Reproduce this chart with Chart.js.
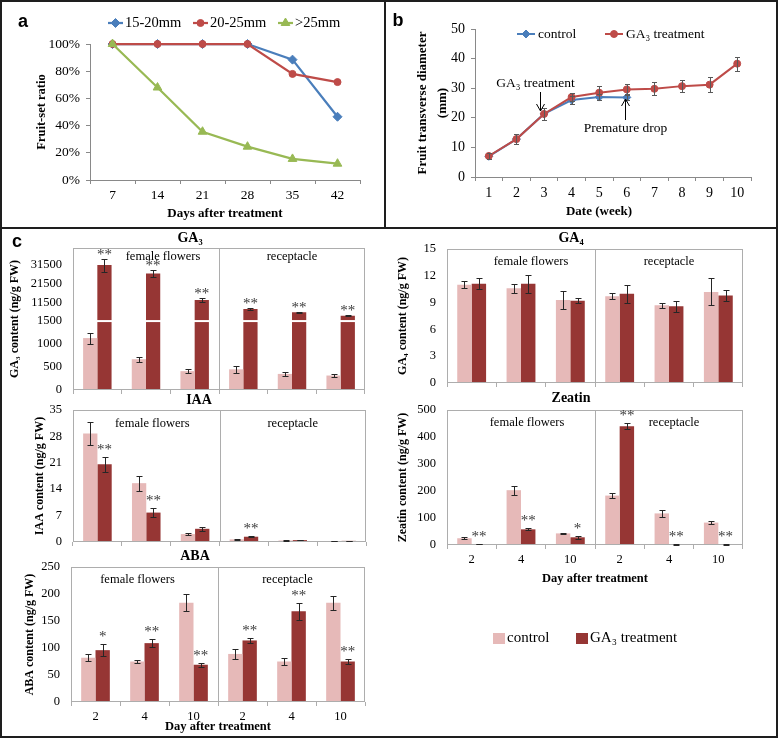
<!doctype html>
<html>

<head>
	<script src="https://cdn.jsdelivr.net/npm/chart.js@4.4.1/dist/chart.umd.min.js"></script>
	<style>
	body { margin: 0; background: #fff; }
	#fig { position: relative; width: 778px; height: 738px; overflow: hidden; }
	#fig canvas { position: absolute; left: 0; top: 0; }
	.rule { position: absolute; background: #1e1e1e; }
	.key { position: absolute; font: 15px 'Liberation Serif', serif; line-height: 16px; white-space: nowrap; }
	.swatch { position: absolute; width: 12px; height: 11px; }
	</style>
</head>

<body>
	<div id="fig">
		<canvas id="fruitSet" width="778" height="738"></canvas>
		<canvas id="diameter" width="778" height="738"></canvas>
		<canvas id="ga3" width="778" height="738"></canvas>
		<canvas id="ga4" width="778" height="738"></canvas>
		<canvas id="iaa" width="778" height="738"></canvas>
		<canvas id="zeatin" width="778" height="738"></canvas>
		<canvas id="aba" width="778" height="738"></canvas>
		<div id="keyC"></div>
		<div class="rule" style="left:0;top:0;width:778px;height:2px"></div>
		<div class="rule" style="left:0;top:736px;width:778px;height:2px"></div>
		<div class="rule" style="left:0;top:0;width:2px;height:738px"></div>
		<div class="rule" style="left:776px;top:0;width:2px;height:738px"></div>
		<div class="rule" style="left:0;top:227px;width:778px;height:2px"></div>
		<div class="rule" style="left:384px;top:0;width:2px;height:228px"></div>
	</div>
	<script>
		var W = 778, H = 738;
		var serif = "'Liberation Serif', 'Times New Roman', serif";
		var sans = "'Liberation Sans', Arial, sans-serif";

		// a: fruit-set ratio (%)
		var daysA = ['7', '14', '21', '28', '35', '42'];
		var sizeClasses = ['15-20mm', '20-25mm', '>25mm'];
		var set1520 = [100, 100, 100, 100, 88.5, 46.5];
		var set2025 = [100, 100, 100, 100, 78, 72];
		var setOver25 = [100, 68, 35.5, 24.5, 15.5, 12];

		// b: fruit transverse diameter (mm)
		var weeks = ['1', '2', '3', '4', '5', '6', '7', '8', '9', '10'];
		var seriesNames = ['control', 'GA\u2083 treatment'];
		var diaControl = [7.0, 12.8, 21.3, 26.0, 27.0, 26.9, null, null, null, null];
		var diaControlErr = [1.0, 1.7, 2.0, 1.3, 1.0, 1.0, null, null, null, null];
		var diaTreated = [7.1, 12.8, 21.3, 27.0, 28.5, 29.6, 29.8, 30.7, 31.2, 38.3];
		var diaTreatedErr = [1.0, 1.7, 2.0, 1.3, 2.4, 1.9, 2.2, 2.1, 2.5, 2.4];

		// c: hormone contents (ng/g FW)
		var days = ['2', '4', '10', '2', '4', '10'];
		var tissues = ['female flowers', 'receptacle'];

		var ga3Control = [1130, 670, 410, 450, 350, 315];
		var ga3ControlErr = [120, 50, 40, 70, 40, 30];
		var ga3Treated = [31500, 27000, 12800, 8000, 6200, 4400];
		var ga3TreatedErr = [3500, 2000, 1000, 400, 200, 200];
		var ga3Stars = ['**', '**', '**', '**', '**', '**'];
		var ga3Ticks = [0, 500, 1000, 1500, 11500, 21500, 31500];

		var ga4Control = [11.0, 10.6, 9.3, 9.7, 8.7, 10.2];
		var ga4ControlErr = [0.4, 0.5, 1.0, 0.35, 0.3, 1.5];
		var ga4Treated = [11.1, 11.1, 9.2, 10.0, 8.6, 9.8];
		var ga4TreatedErr = [0.6, 1.0, 0.3, 1.0, 0.6, 0.6];
		var ga4Stars = ['', '', '', '', '', ''];

		var iaaControl = [28.8, 15.6, 2.1, 0.7, 0.4, 0.2];
		var iaaControlErr = [3.0, 2.0, 0.3, 0.15, 0.1, 0.05];
		var iaaTreated = [20.6, 7.8, 3.5, 1.4, 0.5, 0.3];
		var iaaTreatedErr = [2.0, 1.1, 0.5, 0.2, 0.1, 0.05];
		var iaaStars = ['**', '**', '', '**', '', ''];

		var zeaControl = [25, 203, 43, 183, 117, 83];
		var zeaControlErr = [3, 17, 3, 8, 14, 7];
		var zeaTreated = [3, 58, 28.5, 440, 2, 2];
		var zeaTreatedErr = [0.5, 4, 6, 12, 0.5, 0.5];
		var zeaStars = ['**', '**', '*', '**', '**', '**'];

		var abaControl = [82, 75, 184, 89, 75, 184];
		var abaControlErr = [6, 2, 16, 9, 6, 13];
		var abaTreated = [96, 109, 69, 114, 168, 75];
		var abaTreatedErr = [11, 7, 4, 5, 16, 5];
		var abaStars = ['*', '**', '**', '**', '**', '**'];

		var blue = '#4A7EBB', red = '#BE4B48', green = '#98B954';
		var pink = '#E6B9B8', maroon = '#963634';
		var axisGrey = '#898989', frameGrey = '#ADADAD';

		Chart.defaults.font.family = serif;
		Chart.defaults.color = '#000';

		// GA3 axis is broken above 1500
		function ga3Break(v) {
			return v <= 1500 ? v : 1500 + (v - 1500) * 0.0406;
		}

		function box(L, T, R, B, yw, xh) {
			return { left: L - yw, top: T, right: W - R, bottom: H - B - xh };
		}

		var errorBars = {
			id: 'errorBars',
			afterDatasetsDraw: function(chart, args, o) {
				var ctx = chart.ctx, y = chart.scales.y;
				var map = o.map || function(v) { return v; };
				chart.data.datasets.forEach(function(ds, di) {
					if (!ds.errors) return;
					chart.getDatasetMeta(di).data.forEach(function(el, i) {
						var v = ds.values ? ds.values[i] : ds.data[i];
						var e = ds.errors[i];
						if (v == null || e == null) return;
						var x = Math.round(el.x) + 0.5;
						var top = Math.round(y.getPixelForValue(map(v + e))) + 0.5;
						var bot = Math.round(y.getPixelForValue(map(Math.max(v - e, 0)))) + 0.5;
						ctx.save();
						ctx.strokeStyle = o.color;
						ctx.lineWidth = 1;
						ctx.beginPath();
						ctx.moveTo(x, top); ctx.lineTo(x, bot);
						ctx.moveTo(x - o.cap, top); ctx.lineTo(x + o.cap, top);
						ctx.moveTo(x - o.cap, bot); ctx.lineTo(x + o.cap, bot);
						ctx.stroke();
						ctx.restore();
					});
				});
			}
		};

		var stars = {
			id: 'stars',
			afterDatasetsDraw: function(chart, args, o) {
				var ctx = chart.ctx, y = chart.scales.y;
				var map = o.map || function(v) { return v; };
				chart.data.datasets.forEach(function(ds, di) {
					if (!ds.stars) return;
					chart.getDatasetMeta(di).data.forEach(function(el, i) {
						if (!ds.stars[i]) return;
						var v = ds.values ? ds.values[i] : ds.data[i];
						var top = y.getPixelForValue(map(v + (ds.errors ? ds.errors[i] : 0)));
						ctx.save();
						ctx.fillStyle = '#3a3a3a';
						ctx.font = '15px ' + serif;
						ctx.textAlign = 'center';
						ctx.textBaseline = 'alphabetic';
						ctx.fillText(ds.stars[i], el.x, top - o.gap);
						ctx.restore();
					});
				});
			}
		};

		var frame = {
			id: 'frame',
			afterDatasetsDraw: function(chart, args, o) {
				var a = chart.chartArea, x = chart.scales.x, ctx = chart.ctx;
				var l = Math.round(a.left) + 0.5, t = Math.round(a.top) + 0.5;
				var r = Math.round(a.right) - 0.5, b = Math.round(a.bottom) - 0.5;
				var mid = Math.round((x.getPixelForValue(2) + x.getPixelForValue(3)) / 2) + 0.5;
				ctx.save();
				ctx.strokeStyle = o.color;
				ctx.lineWidth = 1;
				ctx.strokeRect(l, t, r - l, b - t);
				ctx.beginPath();
				ctx.moveTo(mid, t); ctx.lineTo(mid, b);
				ctx.stroke();
				ctx.fillStyle = '#000';
				ctx.font = '12.5px ' + serif;
				ctx.textAlign = 'center';
				ctx.textBaseline = 'middle';
				tissues.forEach(function(name, k) {
					var cx = (x.getPixelForValue(k * 3) + x.getPixelForValue(k * 3 + 2)) / 2;
					ctx.fillText(name, cx + o.dx[k], a.top + o.dy);
				});
				ctx.restore();
			}
		};

		var breakMark = {
			id: 'breakMark',
			afterDatasetsDraw: function(chart, args, o) {
				if (o.at == null) return;
				var ctx = chart.ctx, y = chart.scales.y;
				var py = y.getPixelForValue(o.at);
				chart.data.datasets.forEach(function(ds, di) {
					chart.getDatasetMeta(di).data.forEach(function(el, i) {
						if (ds.data[i] <= o.at) return;
						ctx.save();
						ctx.strokeStyle = '#fff';
						ctx.lineWidth = 2;
						ctx.beginPath();
						ctx.moveTo(el.x - el.width / 2 - 1, py);
						ctx.lineTo(el.x + el.width / 2 + 1, py);
						ctx.stroke();
						ctx.restore();
					});
				});
			}
		};

		var lineLegend = {
			id: 'lineLegend',
			afterDraw: function(chart, args, o) {
				var ctx = chart.ctx;
				chart.data.datasets.forEach(function(ds, i) {
					var x = o.x[i], y = o.y;
					ctx.save();
					ctx.strokeStyle = ds.borderColor;
					ctx.lineWidth = ds.borderWidth;
					ctx.beginPath();
					ctx.moveTo(x, y); ctx.lineTo(x + o.len, y);
					ctx.stroke();
					ctx.fillStyle = ds.pointBackgroundColor;
					ctx.strokeStyle = ds.pointBorderColor;
					ctx.lineWidth = 1;
					Chart.helpers.drawPoint(ctx, { pointStyle: ds.pointStyle, radius: ds.pointRadius, rotation: 0, borderWidth: 1 }, x + o.len / 2, y);
					ctx.fillStyle = '#000';
					ctx.font = o.font;
					ctx.textAlign = 'left';
					ctx.textBaseline = 'middle';
					ctx.fillText(ds.label, x + o.len + o.gap, y);
					ctx.restore();
				});
			}
		};

		var notes = {
			id: 'notes',
			afterDraw: function(chart, args, o) {
				var ctx = chart.ctx, x = chart.scales.x;
				o.items.forEach(function(n) {
					var px = Math.round(x.getPixelForValue(n.index) + n.dx) + 0.5;
					var dir = n.to > n.from ? 1 : -1;
					ctx.save();
					ctx.strokeStyle = '#000';
					ctx.lineWidth = 1;
					ctx.beginPath();
					ctx.moveTo(px, n.from); ctx.lineTo(px, n.to);
					ctx.moveTo(px - 4, n.to - dir * 7); ctx.lineTo(px, n.to); ctx.lineTo(px + 4, n.to - dir * 7);
					ctx.stroke();
					ctx.fillStyle = '#000';
					ctx.font = '13.5px ' + serif;
					ctx.textAlign = 'center';
					ctx.textBaseline = 'middle';
					ctx.fillText(n.text, px + n.textDx, n.textY);
					ctx.restore();
				});
			}
		};

		var decor = {
			id: 'decor',
			afterDraw: function(chart, args, o) {
				var ctx = chart.ctx;
				o.texts.forEach(function(t) {
					ctx.save();
					ctx.font = t.font;
					ctx.fillStyle = '#000';
					ctx.textAlign = 'center';
					ctx.textBaseline = 'middle';
					ctx.fillText(t.text, t.x, t.y);
					ctx.restore();
				});
			}
		};

		function lineSet(label, data, color, style, r, order) {
			return {
				label: label, data: data,
				borderColor: color, backgroundColor: color,
				pointBackgroundColor: color, pointBorderColor: color,
				pointStyle: style, pointRadius: r, pointBorderWidth: 1,
				borderWidth: 2.25, tension: 0, clip: false, order: order
			};
		}

		// panel a
		new Chart(document.getElementById('fruitSet'), {
			type: 'line',
			data: {
				labels: daysA,
				datasets: [
					lineSet(sizeClasses[0], set1520, blue, 'rectRot', 4.5, 2),
					lineSet(sizeClasses[1], set2025, red, 'circle', 3.5, 1),
					lineSet(sizeClasses[2], setOver25, green, 'triangle', 5, 0)
				]
			},
			options: {
				responsive: false, animation: false, events: [],
				layout: { padding: box(90, 44, 360, 180, 90, 48) },
				scales: {
					x: {
						offset: true,
						ticks: { font: { size: 13.5 }, padding: 3, maxRotation: 0 },
						grid: { drawOnChartArea: false, tickLength: 4, offset: true, color: axisGrey },
						border: { color: axisGrey },
						title: { display: true, text: 'Days after treatment', font: { size: 13, weight: 'bold' }, padding: { top: 0, bottom: 6.2 } },
						afterFit: function(s) { s.height = 48; }
					},
					y: {
						min: 0, max: 100,
						ticks: { stepSize: 20, font: { size: 13.5 }, padding: 6, callback: function(v) { return v + '%'; } },
						grid: { drawOnChartArea: false, tickLength: 4, color: axisGrey },
						border: { color: axisGrey },
						title: { display: true, text: 'Fruit-set ratio', font: { size: 12.5, weight: 'bold' }, padding: { top: 34.5, bottom: 0 } },
						afterFit: function(s) { s.width = 90; }
					}
				},
				plugins: {
					legend: { display: false }, tooltip: { enabled: false },
					lineLegend: { x: [108, 193, 278], y: 23, len: 15, gap: 2, font: '14.5px ' + serif },
					decor: { texts: [{ text: 'a', x: 23, y: 22, font: 'bold 18px ' + sans }] }
				}
			},
			plugins: [lineLegend, decor]
		});

		// panel b
		var ctrlLine = lineSet(seriesNames[0], diaControl, blue, 'rectRot', 4, 1);
		ctrlLine.errors = diaControlErr;
		ctrlLine.borderWidth = 2;
		var ga3Line = lineSet(seriesNames[1], diaTreated, red, 'circle', 3.5, 0);
		ga3Line.errors = diaTreatedErr;
		ga3Line.borderWidth = 2;

		new Chart(document.getElementById('diameter'), {
			type: 'line',
			data: { labels: weeks, datasets: [ctrlLine, ga3Line] },
			options: {
				responsive: false, animation: false, events: [],
				layout: { padding: box(475, 29, 751, 177, 90, 51) },
				scales: {
					x: {
						offset: true,
						ticks: { font: { size: 14 }, padding: 4, maxRotation: 0, autoSkip: false },
						grid: { drawOnChartArea: false, tickLength: 4, offset: true, color: axisGrey },
						border: { color: axisGrey },
						afterFit: function(s) { s.height = 51; }
					},
					y: {
						min: 0, max: 50,
						ticks: { stepSize: 10, font: { size: 14 }, padding: 6 },
						grid: { drawOnChartArea: false, tickLength: 4, color: axisGrey },
						border: { color: axisGrey },
						title: { display: true, text: ['Fruit transverse diameter', '(mm)'], font: { size: 13, weight: 'bold', lineHeight: '20px' }, padding: { top: 28, bottom: 0 } },
						afterFit: function(s) { s.width = 90; }
					}
				},
				plugins: {
					legend: { display: false }, tooltip: { enabled: false },
					errorBars: { color: '#595959', cap: 2.5 },
					lineLegend: { x: [517, 605], y: 34, len: 18, gap: 3, font: '13.5px ' + serif },
					notes: { items: [
						{ text: 'GA\u2083 treatment', index: 2, dx: -4, from: 92, to: 111, textDx: -5, textY: 83 },
						{ text: 'Premature drop', index: 5, dx: -2, from: 120, to: 99, textDx: 0, textY: 128 }
					] },
					decor: { texts: [
						{ text: 'b', x: 398, y: 21, font: 'bold 18px ' + sans },
						{ text: 'Date (week)', x: 599, y: 212, font: 'bold 13px ' + serif }
					] }
				}
			},
			plugins: [errorBars, lineLegend, notes, decor]
		});

		// panel c
		function hormoneChart(id, o) {
			var map = o.map || function(v) { return v; };
			var yTicks = { font: { size: 12.5 }, padding: 11, autoSkip: false };
			if (o.step) yTicks.stepSize = o.step;
			if (o.tickValues) yTicks.callback = function(v, i) { return String(o.tickValues[i]); };
			var yScale = {
				min: 0, max: o.max,
				ticks: yTicks,
				grid: { display: false, drawTicks: false },
				border: { display: false },
				title: { display: true, text: o.yTitle, font: { size: 12, weight: 'bold' }, padding: { top: o.yTitlePad, bottom: 0 } },
				afterFit: function(s) { s.width = o.yw; }
			};
			if (o.tickValues) {
				yScale.afterBuildTicks = function(s) {
					s.ticks = o.tickValues.map(function(v) { return { value: map(v) }; });
				};
			}
			return new Chart(document.getElementById(id), {
				type: 'bar',
				data: {
					labels: days,
					datasets: [{
						label: seriesNames[0], data: o.control.map(map), values: o.control, errors: o.controlErr,
						backgroundColor: pink
					}, {
						label: seriesNames[1], data: o.treated.map(map), values: o.treated, errors: o.treatedErr, stars: o.stars,
						backgroundColor: maroon
					}]
				},
				options: {
					responsive: false, animation: false, events: [],
					layout: { padding: box(o.L, o.T, o.R, o.B, o.yw, o.xh) },
					datasets: { bar: { categoryPercentage: 0.585, barPercentage: 1 } },
					scales: {
						x: {
							ticks: { display: !!o.showDays, font: { size: 12.5 }, padding: 2.8, maxRotation: 0, autoSkip: false },
							grid: { drawOnChartArea: false, drawTicks: true, tickLength: 4, offset: true, color: frameGrey },
							border: { display: false },
							title: { display: !!o.showDays, text: 'Day after treatment', font: { size: 12.5, weight: 'bold' }, padding: { top: 0, bottom: o.xTitlePad || 0 } },
							afterFit: function(s) { s.height = o.xh; }
						},
						y: yScale
					},
					plugins: {
						legend: { display: false }, tooltip: { enabled: false },
						frame: { color: frameGrey, dx: o.labelDx, dy: o.labelDy },
						breakMark: { at: o.breakAt },
						errorBars: { map: map, color: '#262626', cap: 3 },
						stars: { map: map, gap: o.starGap },
						decor: { texts: o.texts }
					}
				},
				plugins: [frame, breakMark, errorBars, stars, decor]
			});
		}

		hormoneChart('ga3', {
			control: ga3Control, controlErr: ga3ControlErr, treated: ga3Treated, treatedErr: ga3TreatedErr, stars: ga3Stars,
			map: ga3Break, tickValues: ga3Ticks, max: 3090, breakAt: 1500,
			L: 73, T: 248, R: 365, B: 390, yw: 73, xh: 5,
			yTitle: 'GA\u2083 content (ng/g FW)', yTitlePad: 7.8,
			labelDx: [17, 0], labelDy: 9, starGap: 0,
			texts: [
				{ text: 'c', x: 17, y: 242, font: 'bold 18px ' + sans },
				{ text: 'GA\u2083', x: 190, y: 238, font: 'bold 14px ' + serif }
			]
		});

		hormoneChart('ga4', {
			control: ga4Control, controlErr: ga4ControlErr, treated: ga4Treated, treatedErr: ga4TreatedErr, stars: ga4Stars,
			max: 15, step: 3,
			L: 447, T: 249, R: 743, B: 383, yw: 60, xh: 5,
			yTitle: 'GA\u2084 content (ng/g FW)', yTitlePad: 8.8,
			labelDx: [10, 0], labelDy: 13, starGap: 3,
			texts: [{ text: 'GA\u2084', x: 571, y: 238, font: 'bold 14px ' + serif }]
		});

		hormoneChart('iaa', {
			control: iaaControl, controlErr: iaaControlErr, treated: iaaTreated, treatedErr: iaaTreatedErr, stars: iaaStars,
			max: 35, step: 7,
			L: 73, T: 410, R: 366, B: 542, yw: 73, xh: 5,
			yTitle: 'IAA content (ng/g FW)', yTitlePad: 32.8,
			labelDx: [6, 0], labelDy: 14, starGap: 3,
			texts: [{ text: 'IAA', x: 199, y: 400, font: 'bold 14px ' + serif }]
		});

		hormoneChart('zeatin', {
			control: zeaControl, controlErr: zeaControlErr, treated: zeaTreated, treatedErr: zeaTreatedErr, stars: zeaStars,
			max: 500, step: 100, showDays: true, xTitlePad: 3.5,
			L: 447, T: 410, R: 743, B: 545, yw: 60, xh: 45,
			yTitle: 'Zeatin content (ng/g FW)', yTitlePad: 8.8,
			labelDx: [6, 5], labelDy: 13, starGap: 3,
			texts: [{ text: 'Zeatin', x: 571, y: 398, font: 'bold 14px ' + serif }]
		});

		hormoneChart('aba', {
			control: abaControl, controlErr: abaControlErr, treated: abaTreated, treatedErr: abaTreatedErr, stars: abaStars,
			max: 250, step: 50, showDays: true, xTitlePad: 2.8,
			L: 71, T: 567, R: 365, B: 702, yw: 71, xh: 35,
			yTitle: 'ABA content (ng/g FW)', yTitlePad: 22.8,
			labelDx: [-7, -4], labelDy: 13, starGap: 3,
			texts: [{ text: 'ABA', x: 195, y: 556, font: 'bold 14px ' + serif }]
		});

		// shared key for panel c
		var keyColors = [pink, maroon];
		var keyX = [493, 576];
		var keyHtml = '';
		seriesNames.forEach(function(name, i) {
			keyHtml += '<span class="swatch" style="left:' + keyX[i] + 'px;top:633px;background:' + keyColors[i] + '"></span>';
			keyHtml += '<span class="key" style="left:' + (keyX[i] + 14) + 'px;top:629px">' + name + '</span>';
		});
		document.getElementById('keyC').innerHTML = keyHtml;
	</script>
</body>

</html>
